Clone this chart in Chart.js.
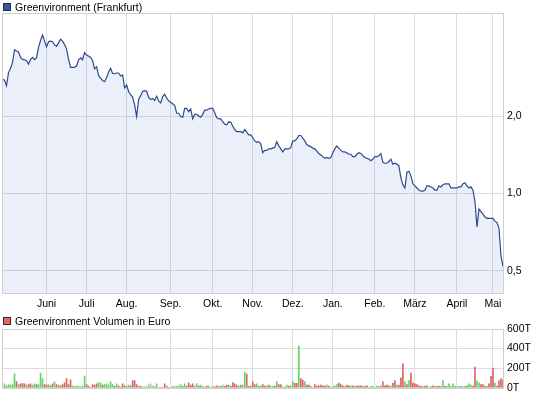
<!DOCTYPE html>
<html>
<head>
<meta charset="utf-8">
<script src="https://cdn.jsdelivr.net/npm/chart.js@4"></script>
<style>
  body { margin: 0; width: 545px; height: 398px; overflow: hidden; position: relative; background: #fff;
         font-family: "Liberation Sans", Arial, sans-serif; font-size: 10.5px; color: #000; }
  canvas { position: absolute; left: 0; }
  .lg { position: absolute; left: 3px; height: 12px; display: flex; align-items: center; white-space: nowrap; }
  .lg i { display: inline-block; width: 6px; height: 6px; border: 1px solid #1d2d55; margin-right: 4px; }
</style>
</head>
<body>
<canvas id="price" width="545" height="312" style="top:0"></canvas>
<canvas id="volume" width="545" height="86" style="top:312px"></canvas>
<div class="lg" style="top:1px"><i style="background:#36569a"></i>Greenvironment (Frankfurt)</div>
<div class="lg" style="top:315px"><i style="background:#e06868;border-color:#4a2424"></i>Greenvironment Volumen in Euro</div>
<script>
// Handelstage, ein Wert pro Tag (Schlusskurs in Euro)
const monthNames  = ['Juni', 'Juli', 'Aug.', 'Sep.', 'Okt.', 'Nov.', 'Dez.', 'Jan.', 'Feb.', 'März', 'April', 'Mai'];
const monthStarts = [22, 42, 62, 84, 105, 125, 145, 165, 186, 206, 227, 245];
const priceTicks  = [0.5, 1, 2];
const volumeTicks = [0, 200, 400, 600];

const prices = [
  2.77, 2.76, 2.62, 2.95, 3.06, 3.23, 3.62, 3.58, 3.55, 3.38,
  3.32, 3.31, 3.28, 3.18, 3.32, 3.38, 3.31, 3.37, 3.70, 3.93,
  4.13, 3.92, 3.72, 3.89, 3.91, 3.89, 3.78, 3.73, 3.85, 3.98,
  3.91, 3.79, 3.64, 3.32, 3.09, 3.09, 3.10, 3.13, 3.31, 3.37,
  3.31, 3.53, 3.45, 3.42, 3.38, 3.28, 3.05, 3.11, 2.87, 2.81,
  2.75, 2.72, 2.82, 2.96, 3.07, 2.93, 2.92, 2.94, 2.94, 2.86,
  2.89, 2.57, 2.64, 2.49, 2.42, 2.37, 2.21, 1.99, 2.32, 2.40,
  2.49, 2.51, 2.49, 2.36, 2.32, 2.34, 2.30, 2.39, 2.29, 2.25,
  2.38, 2.43, 2.35, 2.29, 2.26, 2.23, 2.20, 2.05, 2.05, 1.99,
  1.98, 2.14, 2.14, 2.08, 2.13, 1.95, 2.03, 2.03, 2.00, 1.98,
  2.03, 2.11, 2.11, 2.13, 2.14, 2.14, 2.06, 1.97, 1.95, 1.95,
  1.90, 1.86, 1.85, 1.90, 1.89, 1.83, 1.77, 1.74, 1.74, 1.74,
  1.72, 1.77, 1.73, 1.69, 1.69, 1.65, 1.60, 1.58, 1.59, 1.56,
  1.44, 1.47, 1.47, 1.49, 1.49, 1.50, 1.51, 1.59, 1.53, 1.49,
  1.45, 1.49, 1.49, 1.49, 1.51, 1.60, 1.60, 1.63, 1.68, 1.68,
  1.64, 1.60, 1.55, 1.53, 1.52, 1.50, 1.49, 1.46, 1.43, 1.41,
  1.39, 1.37, 1.38, 1.37, 1.38, 1.44, 1.49, 1.53, 1.50, 1.47,
  1.45, 1.45, 1.44, 1.42, 1.42, 1.39, 1.39, 1.42, 1.44, 1.43,
  1.40, 1.38, 1.37, 1.36, 1.34, 1.36, 1.39, 1.39, 1.40, 1.43,
  1.32, 1.31, 1.31, 1.33, 1.36, 1.30, 1.31, 1.30, 1.28, 1.15,
  1.08, 1.05, 1.21, 1.22, 1.17, 1.09, 1.07, 1.05, 1.03, 1.02,
  1.02, 1.03, 1.07, 1.07, 1.06, 1.05, 1.03, 1.03, 1.07, 1.06,
  1.08, 1.09, 1.09, 1.09, 1.05, 1.05, 1.05, 1.05, 1.06, 1.06,
  1.09, 1.10, 1.07, 1.05, 1.06, 1.03, 0.93, 0.74, 0.87, 0.85,
  0.83, 0.81, 0.80, 0.80, 0.80, 0.80, 0.78, 0.77, 0.73, 0.57, 0.52
];

// Umsatz in Tausend Euro
const volumes = [
  10, 40, 17, 33, 27, 33, 143, 63, 33, 40,
  43, 40, 27, 33, 40, 27, 40, 33, 33, 150,
  93, 33, 27, 33, 20, 40, 60, 33, 27, 20,
  33, 50, 93, 33, 80, 20, 13, 20, 13, 10,
  17, 120, 33, 17, 0, 33, 27, 40, 53, 47,
  27, 33, 40, 27, 60, 33, 13, 40, 20, 10,
  40, 20, 17, 27, 20, 73, 73, 33, 17, 13,
  10, 10, 17, 33, 40, 17, 10, 40, 0, 0,
  0, 40, 17, 0, 0, 13, 10, 13, 20, 33,
  13, 40, 17, 50, 27, 40, 17, 40, 20, 27,
  13, 10, 17, 20, 0, 13, 10, 20, 17, 13,
  27, 13, 27, 27, 13, 53, 40, 27, 17, 27,
  27, 160, 140, 13, 20, 60, 33, 40, 13, 20,
  33, 17, 20, 27, 13, 13, 17, 63, 33, 33,
  10, 10, 27, 17, 20, 63, 45, 45, 427, 93,
  77, 63, 27, 27, 13, 0, 33, 17, 20, 27,
  20, 17, 27, 17, 0, 13, 20, 33, 47, 33,
  20, 13, 27, 20, 20, 20, 17, 17, 20, 20,
  17, 13, 20, 0, 13, 13, 0, 17, 13, 20,
  60, 20, 27, 20, 17, 47, 73, 27, 27, 100,
  243, 60, 33, 73, 150, 50, 40, 33, 20, 17,
  13, 17, 20, 0, 13, 20, 17, 13, 17, 13,
  73, 13, 17, 40, 10, 40, 17, 13, 13, 13,
  13, 17, 17, 40, 27, 17, 210, 67, 50, 33,
  33, 13, 17, 40, 117, 200, 47, 17, 73, 93, 80
];

// u = Kurs gestiegen, d = gefallen, n = unveraendert
const volumeMoves = (
  'uuduu uudud ddudd uuduu uddud dudud ddddd uuuuu uuddn ddduu ' +
  'duuuu ududu dduud dddud unnnn udunn nddnn uduuu duddd duudu ' +
  'undun uddud uddud dddud uuddu ddudu ddudu ududd uuudu uddud ' +
  'duddu ndddd ddudn uuudd duddu duddd uddnu unuuu ddddu ddudd ' +
  'dudud ddddd uddnu duddu uduud uunuu nuduu dduud ddudd duddd d'
).replace(/ /g, '').split('');

const moveColors = { u: '#62d662', d: '#dc6464', n: '#bdbdbd' };
const gridColor = '#dcdcdc';

Chart.defaults.font.family = '"Liberation Sans", Arial, sans-serif';
Chart.defaults.font.size = 10.5;
Chart.defaults.color = '#000';

const frame = {
  id: 'frame',
  afterDraw(chart) {
    const { ctx, chartArea: a } = chart;
    ctx.save();
    ctx.strokeStyle = '#cfcfcf';
    ctx.lineWidth = 1;
    ctx.strokeRect(Math.round(a.left) + 0.5 - 1, Math.round(a.top) + 0.5, Math.round(a.right - a.left), Math.round(a.bottom - a.top));
    ctx.restore();
  }
};

function monthAxis(showLabels) {
  return {
    type: 'linear', min: 0, max: prices.length - 1, offset: false,
    afterBuildTicks: s => { s.ticks = monthStarts.map(v => ({ value: v })); },
    afterFit: s => { s.height = showLabels ? 19 : 0; },
    ticks: {
      display: showLabels, autoSkip: false, maxRotation: 0, padding: 5,
      callback: v => monthNames[monthStarts.indexOf(v)]
    },
    grid: { color: gridColor, drawTicks: false, offset: false },
    border: { display: false }
  };
}

new Chart(document.getElementById('price'), {
  type: 'line',
  data: {
    datasets: [{
      data: prices.map((p, i) => ({ x: i, y: p })),
      borderColor: '#2c4b8c', borderWidth: 1.2,
      fill: 'start', backgroundColor: 'rgba(60,100,210,0.10)',
      pointRadius: 0, tension: 0
    }]
  },
  options: {
    responsive: false, animation: false, events: [],
    layout: { padding: { left: 2.5, top: 13, right: 0, bottom: 0 } },
    plugins: { legend: { display: false }, tooltip: { enabled: false } },
    scales: {
      x: monthAxis(true),
      y: {
        type: 'logarithmic', position: 'right', min: 0.41, max: 5.03,
        afterBuildTicks: s => { s.ticks = priceTicks.map(v => ({ value: v })); },
        afterFit: s => { s.width = 42; },
        ticks: { padding: 4, callback: v => Number(v).toFixed(1).replace('.', ',') },
        grid: { color: gridColor, drawTicks: false },
        border: { display: false }
      }
    }
  },
  plugins: [frame]
});

new Chart(document.getElementById('volume'), {
  type: 'bar',
  data: {
    datasets: [{
      data: volumes.map((v, i) => ({ x: i, y: v })),
      backgroundColor: volumeMoves.map(m => moveColors[m]),
      barThickness: 1, borderWidth: 0
    }]
  },
  options: {
    responsive: false, animation: false, events: [],
    layout: { padding: { left: 2.5, top: 17, right: 0, bottom: 9 } },
    plugins: { legend: { display: false }, tooltip: { enabled: false } },
    scales: {
      x: monthAxis(false),
      y: {
        position: 'right', min: 0, max: 600,
        afterBuildTicks: s => { s.ticks = volumeTicks.map(v => ({ value: v })); },
        afterFit: s => { s.width = 42; },
        ticks: { padding: 4, callback: v => v + 'T' },
        grid: { color: gridColor, drawTicks: false },
        border: { display: false }
      }
    }
  },
  plugins: [frame]
});
</script>
</body>
</html>
